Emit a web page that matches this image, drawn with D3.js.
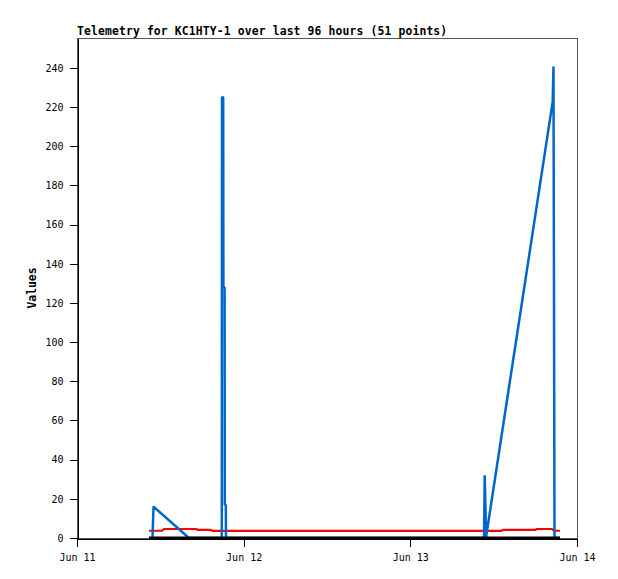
<!DOCTYPE html>
<html><head><meta charset="utf-8">
<script src="https://cdn.jsdelivr.net/npm/d3@7"></script>
<style>body{margin:0;background:#fff}svg{display:block}</style>
</head><body>
<script>
// Data: hours after Jun 11 00:00
const blueHours  = [10.87, 11.02, 16.13, 20.851, 20.880, 21.053, 21.082, 21.254, 21.283, 21.427, 21.456, 58.61, 58.71, 58.82, 58.90, 58.97, 68.50, 68.61, 68.69, 68.76, 69.55];
const blueValues = [0, 16, 0, 0, 225, 225, 128, 128, 17, 17, 0, 0, 32, 16, 0, 2, 222.8, 240.7, 120.5, 0, 0];
const redHours   = [10.37, 12.24, 12.53, 17.14, 17.42, 19.30, 19.58, 61.06, 61.34, 65.95, 66.24, 68.40, 68.69, 69.55];
const redValues  = [3.7, 3.7, 4.6, 4.6, 4.1, 4.1, 3.6, 3.6, 4.1, 4.1, 4.6, 4.6, 3.7, 3.7];
const blackHours = [10.37, 69.55];
const blackValues= [0, 0];
const yTicks = [0,20,40,60,80,100,120,140,160,180,200,220,240];
const xTickLabels = ["Jun 11","Jun 12","Jun 13","Jun 14"];
const title = "Telemetry for KC1HTY-1 over last 96 hours (51 points)";
const yLabel = "Values";

const W=618,H=579, m={l:77,t:38,w:500,h:500};
const base = new Date(2024,5,11,0,0);
const toDate = h => new Date(base.getTime()+h*3600e3);
const svg = d3.select("body").append("svg").attr("width",W).attr("height",H);
const x = d3.scaleTime().domain([base, toDate(72)]).range([m.l, m.l+m.w]);
const y = d3.scaleLinear().domain([0,255.3]).range([m.t+m.h, m.t]);
const mono = "'DejaVu Sans Mono', 'Liberation Mono', monospace";

// frame
svg.append("rect").attr("x",m.l+0.5).attr("y",m.t+0.5).attr("width",m.w).attr("height",m.h)
  .attr("fill","none").attr("stroke","#555").attr("shape-rendering","crispEdges");

const line = d3.line().x(d=>x(toDate(d[0]))).y(d=>y(d[1]));
function series(hs, vs, color, w){
  svg.append("path").datum(hs.map((h,i)=>[h,vs[i]]))
    .attr("d",line).attr("fill","none").attr("stroke",color).attr("stroke-width",w)
    .attr("stroke-linejoin","bevel").attr("stroke-linecap","butt");
}
series(redHours, redValues, "#ff0000", 2.2);
series(blueHours, blueValues, "#0066cc", 2.5);
series(blackHours, blackValues, "#000000", 3);

// axes
const yAxis = d3.axisLeft(y).tickValues(yTicks).tickSize(8).tickPadding(6).tickSizeOuter(0);
const gy = svg.append("g").attr("transform",`translate(${m.l+0.5},0)`).call(yAxis);
const xAxis = d3.axisBottom(x).ticks(d3.timeDay.every(1)).tickFormat((d,i)=>xTickLabels[i]).tickSize(8).tickPadding(4).tickSizeOuter(0);
const gx = svg.append("g").attr("transform",`translate(0,${m.t+m.h+0.5})`).call(xAxis);
[gx,gy].forEach(g=>{
  g.selectAll("path.domain").attr("stroke","#000").attr("shape-rendering","crispEdges");
  g.selectAll("line").attr("stroke","#000").attr("shape-rendering","crispEdges");
  g.selectAll("text").attr("font-family",mono).attr("font-size","10px").attr("fill","#000");
});
gx.selectAll("text").attr("dy","1em");
svg.append("line").attr("x1",m.l+0.5).attr("x2",m.l+0.5).attr("y1",m.t+m.h).attr("y2",m.t+m.h+8).attr("stroke","#000");

svg.append("text").attr("x",m.l).attr("y",35).text(title)
  .attr("font-family",mono).attr("font-weight","bold").attr("font-size","11.4px").attr("letter-spacing","0.13px");
svg.append("text").attr("transform",`translate(36,288) rotate(-90)`).attr("text-anchor","middle")
  .text(yLabel).attr("font-family",mono).attr("font-weight","bold").attr("font-size","11.4px");
</script>
</body></html>
